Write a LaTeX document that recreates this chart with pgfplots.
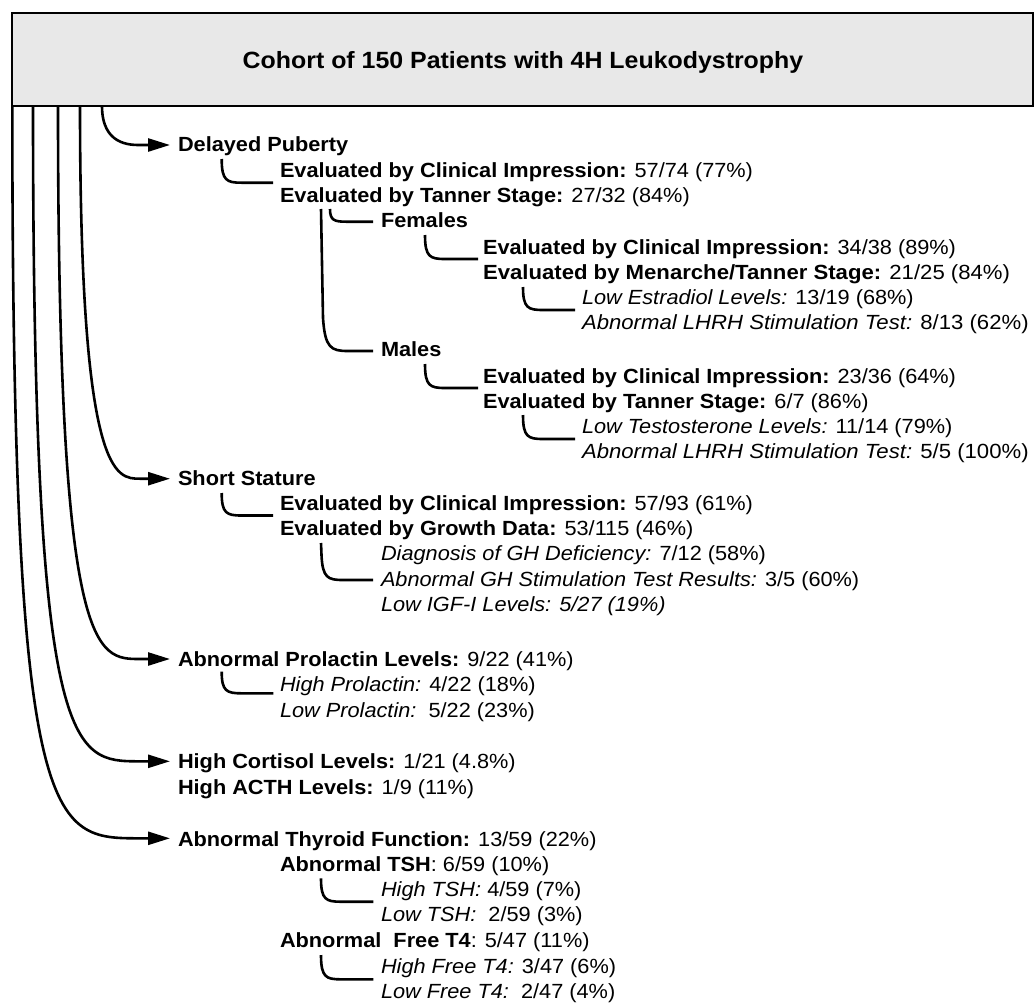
\documentclass[border=0pt]{standalone}
\usepackage{pgfplots}
\pgfplotsset{compat=1.18}
\usepackage{fontspec}
\setmainfont{Liberation Sans}
\usepackage{graphicx}
\usetikzlibrary{arrows.meta}
\newcommand{\SX}[1]{\scalebox{1.06}[1]{#1}}
\newcommand{\SXi}[1]{\scalebox{1.08}[1]{#1}}
\newcommand{\fs}{\fontsize{20.5}{24}\selectfont}
\newcommand{\tfs}{\fontsize{23.5}{28}\selectfont}
\begin{document}
\begin{tikzpicture}[every node/.style={inner sep=0pt,outer sep=0pt}]
\begin{axis}[width=1035pt,height=1002pt,scale only axis,hide axis,
  xmin=0,xmax=1035,ymin=0,ymax=1002,y dir=reverse,clip=false]
\path (0,0) rectangle (1035,1002);
% title box
\draw[line width=2.2pt,fill=black!9] (12.3,13.3) rectangle (1033.3,106);
\node[anchor=base] at (523,68.3) {\tfs\SX{\textbf{Cohort of 150 Patients with 4H Leukodystrophy}}};
% main arrows
\begin{scope}[line width=2.6pt]
\draw[-{Triangle[length=22pt,width=13pt]}] (102,106) .. controls (102,145) and (130,145) .. (140,145) -- (170,145);
\draw[-{Triangle[length=22pt,width=13pt]}] (80,106) .. controls (80,478.7) and (116,478.7) .. (140,478.7) -- (170,478.7);
\draw[-{Triangle[length=22pt,width=13pt]}] (58,106) .. controls (58,659) and (96,659) .. (140,659) -- (170,659);
\draw[-{Triangle[length=22pt,width=13pt]}] (33,106) .. controls (33,761.3) and (72,761.3) .. (140,761.3) -- (170,761.3);
\draw[-{Triangle[length=22pt,width=13pt]}] (12.3,106) .. controls (12.3,838.3) and (51,838.3) .. (140,838.3) -- (170,838.3);
% small connectors
\draw (221.7,159) .. controls (221.7,180.7) and (226.7,182.7) .. (241.7,182.7) -- (273,182.7);
\draw (330,209) .. controls (330,220) and (334,221.7) .. (346,221.7) -- (373,221.7);
\draw (321,209) -- (323,318) .. controls (325,348) and (331,351) .. (348,351) -- (373,351);
\draw (425,235) .. controls (425,257) and (430,259) .. (445,259) -- (478,259);
\draw (523,287) .. controls (523,308) and (528,310) .. (543,310) -- (575,310);
\draw (425,364) .. controls (425,386) and (430,388) .. (445,388) -- (478,388);
\draw (523,415) .. controls (523,437) and (528,439) .. (543,439) -- (575,439);
\draw (221.7,493) .. controls (221.7,513.5) and (226.7,515.5) .. (241.7,515.5) -- (273,515.5);
\draw (321,543) -- (321.5,555) .. controls (322.5,578) and (328,580) .. (343,580) -- (373,580);
\draw (221.7,671.7) .. controls (221.7,691.3) and (226.7,693.3) .. (241.7,693.3) -- (273.3,693.3);
\draw (321,878.3) .. controls (321,899.7) and (326,901.7) .. (341,901.7) -- (373.3,901.7);
\draw (321,955) .. controls (321,977.3) and (326,979.3) .. (341,979.3) -- (373.3,979.3);
\end{scope}
% level 1
\node[anchor=base west] at (178,151.7) {\fs\SX{\textbf{Delayed Puberty}}};
\node[anchor=base west] at (178,485.7) {\fs\SX{\textbf{Short Stature}}};
\node[anchor=base west] at (178,666) {\fs\SX{\textbf{Abnormal Prolactin Levels:} 9/22 (41\%)}};
\node[anchor=base west] at (178,768.3) {\fs\SX{\textbf{High Cortisol Levels:} 1/21 (4.8\%)}};
\node[anchor=base west] at (178,794) {\fs\SX{\textbf{High ACTH Levels:} 1/9 (11\%)}};
\node[anchor=base west] at (178,846) {\fs\SX{\textbf{Abnormal Thyroid Function:} 13/59 (22\%)}};
% level 2
\node[anchor=base west] at (280,177.3) {\fs\SX{\textbf{Evaluated by Clinical Impression:} 57/74 (77\%)}};
\node[anchor=base west] at (280,202.7) {\fs\SX{\textbf{Evaluated by Tanner Stage:} 27/32 (84\%)}};
\node[anchor=base west] at (280,510.7) {\fs\SX{\textbf{Evaluated by Clinical Impression:} 57/93 (61\%)}};
\node[anchor=base west] at (280,535.5) {\fs\SX{\textbf{Evaluated by Growth Data:} 53/115 (46\%)}};
\node[anchor=base west] at (280,691.7) {\fs\SX{\textit{High Prolactin:} 4/22 (18\%)}};
\node[anchor=base west] at (280,717.3) {\fs\SX{\textit{Low Prolactin:}\ \ 5/22 (23\%)}};
\node[anchor=base west] at (280,871) {\fs\SX{\textbf{Abnormal TSH}: 6/59 (10\%)}};
\node[anchor=base west] at (280,947.3) {\fs\SX{\textbf{Abnormal\ \ Free T4}: 5/47 (11\%)}};
% level 3
\node[anchor=base west] at (381,227.5) {\fs\SX{\textbf{Females}}};
\node[anchor=base west] at (381,356.7) {\fs\SX{\textbf{Males}}};
\node[anchor=base west] at (381,560.5) {\fs\SX{\textit{Diagnosis of GH Deficiency:} 7/12 (58\%)}};
\node[anchor=base west] at (381,586) {\fs\SX{\textit{Abnormal GH Stimulation Test Results:} 3/5 (60\%)}};
\node[anchor=base west] at (381,611.5) {\fs\SX{\textit{Low IGF-I Levels: 5/27 (19\%)}}};
\node[anchor=base west] at (381,896.7) {\fs\SX{\textit{High TSH:} 4/59 (7\%)}};
\node[anchor=base west] at (381,921.7) {\fs\SX{\textit{Low TSH:}\ \ 2/59 (3\%)}};
\node[anchor=base west] at (381,973.3) {\fs\SX{\textit{High Free T4:} 3/47 (6\%)}};
\node[anchor=base west] at (381,998.3) {\fs\SX{\textit{Low Free T4:}\ \ 2/47 (4\%)}};
% level 4
\node[anchor=base west] at (483,254.5) {\fs\SX{\textbf{Evaluated by Clinical Impression:} 34/38 (89\%)}};
\node[anchor=base west] at (483,279.5) {\fs\SXi{\textbf{Evaluated by Menarche/Tanner Stage:} 21/25 (84\%)}};
\node[anchor=base west] at (483,383) {\fs\SX{\textbf{Evaluated by Clinical Impression:} 23/36 (64\%)}};
\node[anchor=base west] at (483,408) {\fs\SX{\textbf{Evaluated by Tanner Stage:} 6/7 (86\%)}};
% level 5
\node[anchor=base west] at (582,304.5) {\fs\SX{\textit{Low Estradiol Levels:} 13/19 (68\%)}};
\node[anchor=base west] at (582,329.5) {\fs\SXi{\textit{Abnormal LHRH Stimulation Test:} 8/13 (62\%)}};
\node[anchor=base west] at (582,433.5) {\fs\SX{\textit{Low Testosterone Levels:} 11/14 (79\%)}};
\node[anchor=base west] at (582,458.5) {\fs\SXi{\textit{Abnormal LHRH Stimulation Test:} 5/5 (100\%)}};
\end{axis}
\end{tikzpicture}
\end{document}
